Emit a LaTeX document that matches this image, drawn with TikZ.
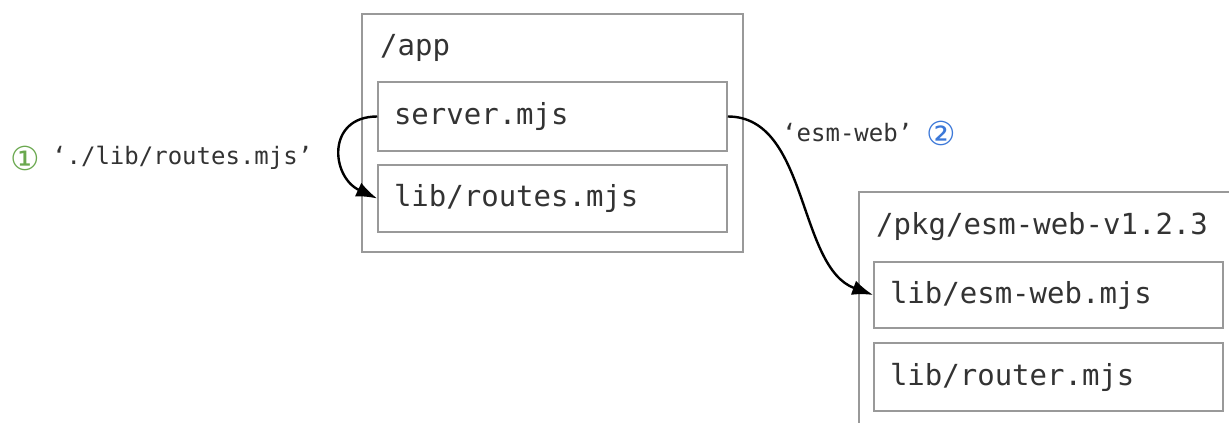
\documentclass[tikz,border=0pt]{standalone}
\usepackage{fontspec}
\setmonofont{DejaVu Sans Mono}
\newfontfamily\circfont{DejaVu Sans}
\usepackage{tikz}
\usetikzlibrary{arrows.meta}
\usetikzlibrary{positioning}
\definecolor{dir-line}{HTML}{999999}
\definecolor{dir-text}{HTML}{333333}
\definecolor{num-green}{HTML}{6AA84F}
\definecolor{num-blue}{HTML}{3C78D8}

\begin{document}
\begin{tikzpicture}[x=1pt, y=-1pt, >={Latex[length=21pt,width=15pt]},
    filebox/.style={draw=dir-line, line width=1.5pt, minimum width=349pt, inner xsep=16pt,
        text width=317pt, align=left, font=\ttfamily\fontsize{29}{29}\selectfont, text=dir-text},
    dirtitle/.style={anchor=west, font=\ttfamily\fontsize{29}{29}\selectfont, text=dir-text, inner sep=0pt},
    importlabel/.style={font=\ttfamily\fontsize{24}{24}\selectfont, text=dir-text, inner sep=0pt},
    circnum/.style={font=\circfont\fontsize{33}{33}\selectfont, inner sep=0pt},
    linkline/.style={->, line width=2.4pt, black}]

    % Area da figura (o bloco /pkg sai pela borda)
    \useasboundingbox (0,0) rectangle (1229,423);
    \clip (0,0) rectangle (1229,423);

    % Pasta /app
    \draw[dir-line, line width=1.5pt] (362,14) rectangle (743,252);
    \node[dirtitle] (apptitle) at (380,48) {/app};
    \node[filebox, minimum height=69pt] (server) at (552.5,116.5) {server.mjs};
    \node[filebox, minimum height=67pt] (routes) at (552.5,198.5) {lib/routes.mjs};

    % Pasta /pkg/esm-web-v1.2.3
    \draw[dir-line, line width=1.5pt] (859,192) rectangle (1245,440);
    \node[dirtitle] (pkgtitle) at (876,227) {/pkg/esm-web-v1.2.3};
    \node[filebox, minimum height=66pt] (esmweb) at (1048.5,295) {lib/esm-web.mjs};
    \node[filebox, minimum height=68pt] (router) at (1048.5,377) {lib/router.mjs};

    % Importacoes
    \draw[linkline] (server.west) to[out=180, in=155, looseness=1.6] (routes.west);
    \draw[linkline] (server.east) to[out=0, in=160, looseness=0.9] (esmweb.west);

    % Rotulos das importacoes
    \node[importlabel, anchor=west] (lblroutes) at (52,158) {‘./lib/routes.mjs’};
    \node[circnum, text=num-green, left=12pt of lblroutes] (num1) {①};
    \node[importlabel, anchor=west] (lblesm) at (782,133) {‘esm-web’};
    \node[circnum, text=num-blue, right=14pt of lblesm] (num2) {②};

\end{tikzpicture}
\end{document}
